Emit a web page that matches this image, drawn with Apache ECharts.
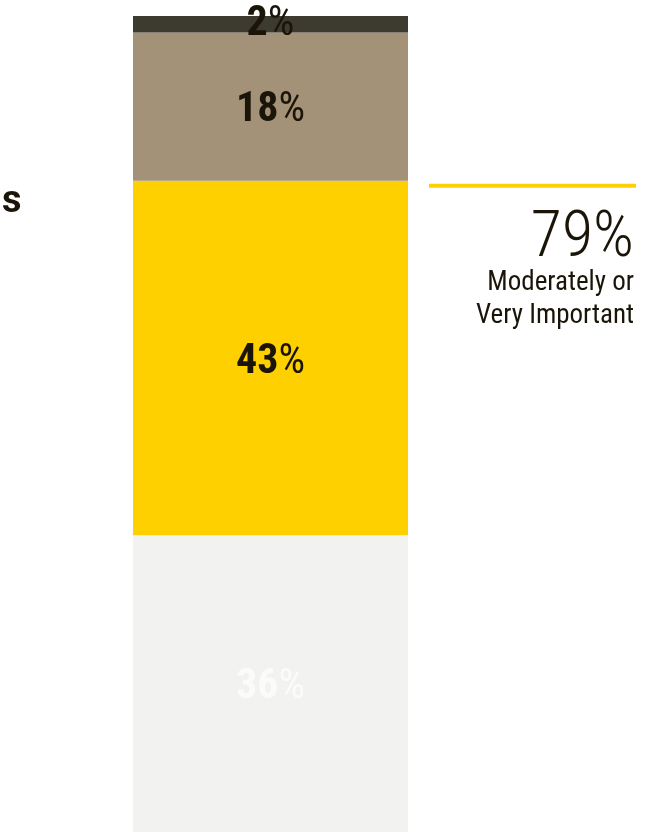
<!DOCTYPE html>
<html>
<head>
<meta charset="utf-8">
<script src="https://cdn.jsdelivr.net/npm/echarts@6/dist/echarts.min.js"></script>
<style>
  html, body { margin: 0; padding: 0; background: #ffffff; }
  #chart { width: 661px; height: 832px; }
</style>
</head>
<body>
<div id="chart"></div>
<script>
// Share of respondents per importance level, stacked bottom to top
const categories = ['Importance'];
const levels = ['Not Important', 'Moderately Important', 'Very Important', 'Extremely Important'];
const notImportant = [36];
const moderately = [43];
const very = [18];
const extremely = [2];
const summaryText = ['Moderately or', 'Very Important'];

const FONT = '"Roboto Condensed", "DejaVu Sans Condensed", sans-serif';
const INK = '#1a1508';

function pctLabel(color, dy) {
  return {
    show: true,
    position: 'inside',
    offset: [0, dy],
    formatter: p => '{n|' + p.value + '}{p|%}',
    rich: {
      n: { fontFamily: FONT, fontWeight: 'bold', fontSize: 42, color: color },
      p: { fontFamily: FONT, fontWeight: 'normal', fontSize: 42, color: color }
    }
  };
}

function seg(name, data, color, labelColor, dy) {
  return {
    name: name,
    type: 'bar',
    stack: 'total',
    data: data,
    barWidth: '100%',
    itemStyle: { color: color },
    label: pctLabel(labelColor, dy),
    emphasis: { disabled: true }
  };
}

const chart = echarts.init(document.getElementById('chart'), null, { renderer: 'canvas' });

const total = notImportant[0] + moderately[0] + very[0] + extremely[0];

chart.setOption({
  animation: false,
  backgroundColor: '#ffffff',
  grid: { left: 133, width: 275, top: 16, bottom: 0, containLabel: false },
  xAxis: { type: 'category', data: categories, show: false },
  yAxis: { type: 'value', min: 0, max: total, show: false },
  series: [
    seg(levels[0], notImportant, '#f2f2f0', '#fbfbfa', 4),
    seg(levels[1], moderately, '#ffd000', INK, 4),
    seg(levels[2], very, '#a39178', INK, 4),
    seg(levels[3], extremely, '#3d3a30', INK, 0)
  ]
});

// Summary callout beside the bar, anchored to the top of the "moderately" segment
const combined = notImportant[0] + moderately[0];
const yTop = chart.convertToPixel({ gridIndex: 0 }, [0, combined])[1];

function calloutText(text, dy, size, weight) {
  return {
    type: 'text',
    x: 634,
    y: yTop + dy,
    style: {
      text: text,
      align: 'right',
      verticalAlign: 'middle',
      fontFamily: FONT,
      fontWeight: weight,
      fontSize: size,
      fill: INK
    }
  };
}

chart.setOption({
  graphic: [
    {
      type: 'text',
      left: 2,
      top: 183,
      style: { text: 's', fontFamily: '"Roboto", sans-serif', fontWeight: 'bold', fontSize: 38, fill: INK }
    },
    {
      type: 'rect',
      shape: { x: 429, y: yTop + 3, width: 207, height: 4 },
      style: { fill: '#ffd000' }
    },
    calloutText(combined + '%', 59, 64, 300),
    calloutText(summaryText[0], 102, 27, 'normal'),
    calloutText(summaryText[1], 135, 27, 'normal')
  ]
});
</script>
</body>
</html>
